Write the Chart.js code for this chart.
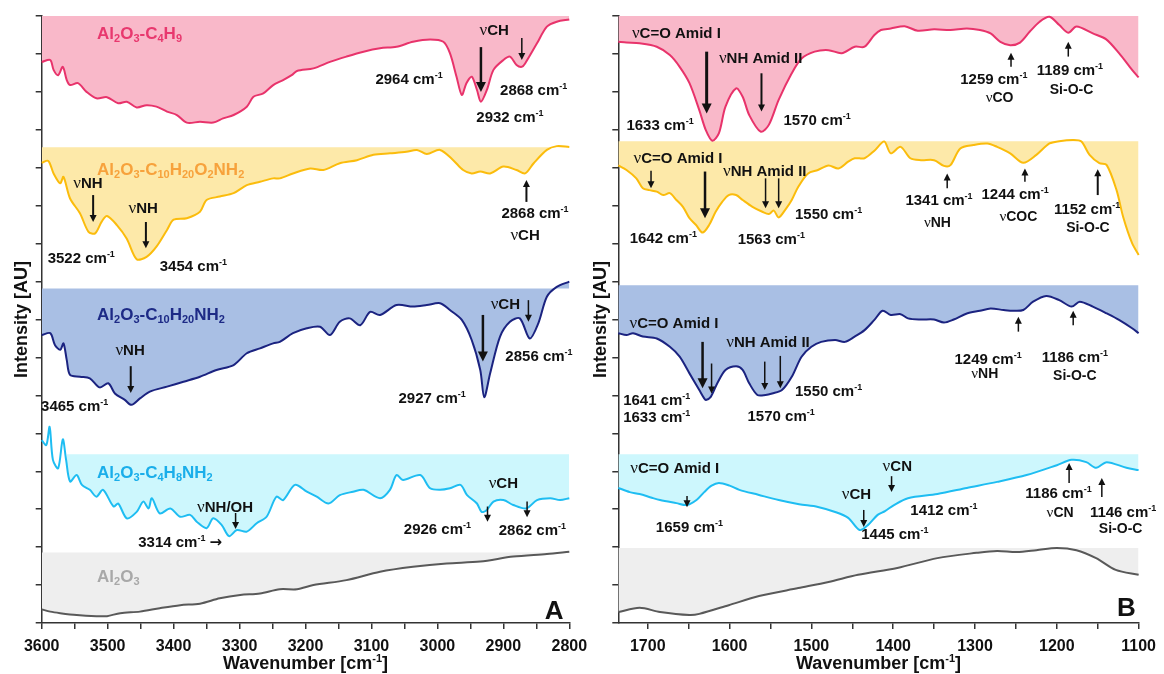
<!DOCTYPE html>
<html>
<head>
<meta charset="utf-8">
<script src="https://cdn.jsdelivr.net/npm/chart.js@4/dist/chart.umd.min.js"></script>
<style>
  html, body { margin: 0; padding: 0; background: #fff; }
  #wrap { position: relative; width: 1164px; height: 674px; overflow: hidden; }
  canvas { position: absolute; top: 0; }
  #chartA { left: 0; }
  #chartB { left: 578px; }
</style>
</head>
<body>
<div id="wrap">
  <canvas id="chartA" width="600" height="674"></canvas>
  <canvas id="chartB" width="586" height="674"></canvas>
</div>
<script>
var SANS = '"Liberation Sans", Arial, sans-serif';

var seriesNames = [
  "Al_2O_3-C_4H_9",
  "Al_2O_3-C_{10}H_{20}O_2NH_2",
  "Al_2O_3-C_{10}H_{20}NH_2",
  "Al_2O_3-C_4H_8NH_2",
  "Al_2O_3",
];
var lineColors = ["#e8336b", "#fbbc0c", "#1b2380", "#1ebdf2", "#595959"];
var fillColors = ["#f9b8c9", "#fde9a9", "#a9bfe4", "#cdf7fd", "#eeeeee"];
var labelColors = ["#e8386e", "#f7a23c", "#1d2a86", "#1aaeea", "#a8a8a8"];

// ---- panel A (3600-2800 cm-1) ----
var wnA_C4H9 = [3600,3587,3582,3575,3568,3562,3557,3545,3532,3517,3501,3484,3471,3456,3441,3426,3410,3395,3380,3360,3340,3325,3309,3289,3279,3264,3249,3234,3221,3213,3188,3163,3138,3112,3087,3062,3037,3011,2991,2981,2971,2963,2956,2948,2940,2934,2925,2915,2900,2890,2880,2872,2867,2849,2834,2819,2800];
var intA_C4H9 = [14.79,14.84,14.58,14.44,14.66,14.31,14.18,14.23,14.00,13.83,13.86,13.70,13.74,13.59,13.65,13.61,13.48,13.39,13.19,13.21,13.19,13.30,13.39,13.61,13.87,13.96,14.18,14.31,14.44,14.55,14.62,14.79,14.93,15.06,15.15,15.19,15.32,15.38,15.32,15.02,14.40,13.92,14.23,14.40,14.05,13.74,14.05,14.58,14.84,14.93,14.71,14.66,14.75,15.28,15.72,15.85,15.91];

var wnA_C10O2 = [3600,3590,3582,3572,3567,3557,3542,3529,3519,3509,3501,3486,3471,3456,3441,3426,3410,3400,3380,3360,3350,3330,3309,3289,3269,3249,3239,3219,3193,3173,3148,3122,3097,3072,3047,3031,3016,2996,2976,2961,2948,2935,2920,2900,2880,2867,2854,2834,2819,2800];
var intA_C10O2 = [12.13,12.18,11.85,11.59,11.76,11.19,10.80,10.31,10.27,10.58,10.73,10.49,10.13,9.59,9.65,9.92,10.36,10.63,10.67,10.84,11.15,11.24,11.33,11.54,11.63,11.72,11.72,11.85,11.98,11.94,12.12,12.20,12.34,12.38,12.42,12.47,12.36,12.47,12.20,11.94,11.85,11.90,11.85,12.03,11.94,11.85,12.12,12.47,12.57,12.55];

var wnA_C10 = [3600,3587,3580,3572,3567,3562,3557,3542,3527,3512,3499,3489,3474,3464,3451,3436,3410,3385,3360,3335,3309,3289,3269,3249,3239,3219,3198,3178,3163,3148,3133,3117,3102,3087,3062,3037,3016,2996,2981,2963,2948,2935,2929,2920,2905,2890,2875,2860,2847,2834,2819,2800];
var intA_C10 = [7.59,7.64,7.33,7.20,7.37,6.93,6.54,6.49,6.45,6.21,6.32,6.05,5.88,5.75,5.92,6.10,6.23,6.36,6.49,6.67,6.80,7.11,7.24,7.37,7.41,7.64,7.77,7.81,7.59,7.94,8.03,7.85,8.20,8.12,8.38,8.34,8.38,8.43,8.25,7.99,7.46,6.67,5.95,6.58,7.55,7.94,8.03,7.50,7.90,8.60,8.86,9.00];

var wnA_C4N = [3600,3593,3588,3583,3575,3568,3563,3557,3547,3539,3527,3517,3507,3491,3484,3471,3456,3446,3438,3433,3421,3405,3390,3375,3365,3350,3340,3327,3316,3304,3289,3274,3259,3244,3234,3216,3198,3183,3165,3148,3128,3112,3087,3072,3062,3052,3026,3011,2996,2981,2965,2955,2940,2933,2925,2915,2900,2885,2865,2849,2829,2814,2800];
var intA_C4N = [4.82,4.69,5.17,4.30,4.08,4.84,4.30,3.73,3.90,3.64,3.51,3.33,3.51,3.07,3.15,2.76,2.93,3.20,3.02,3.29,2.89,3.02,2.80,2.85,2.67,2.50,2.76,2.58,2.29,2.45,2.41,2.63,2.80,3.33,3.24,3.64,3.46,3.33,3.15,3.37,3.46,3.51,3.29,3.51,3.90,3.77,3.90,3.55,3.51,3.55,3.64,3.37,3.15,2.93,2.98,3.20,3.24,3.11,3.02,3.24,3.29,3.24,3.29];

var wnA_Al2O3 = [3600,3587,3572,3547,3517,3501,3481,3451,3421,3390,3360,3330,3299,3269,3239,3213,3188,3138,3087,3037,2986,2935,2885,2834,2800];
var intA_Al2O3 = [0.36,0.30,0.26,0.21,0.18,0.18,0.26,0.30,0.39,0.47,0.51,0.65,0.74,0.78,0.89,0.89,1.00,1.13,1.35,1.48,1.57,1.62,1.75,1.82,1.88];

var bandTopA = [16.05, 12.54, 8.82, 4.45, 1.86];
var bandStartA = [3600, 3600, 3600, 3562, 3600];

// ---- panel B (1736-1100 cm-1) ----
var wnB_C4H9 = [1736,1726,1710,1689,1673,1661,1649,1637,1629,1621,1613,1605,1592,1584,1576,1562,1552,1540,1524,1512,1496,1479,1463,1447,1435,1423,1415,1403,1386,1370,1350,1330,1310,1294,1281,1269,1257,1245,1233,1221,1209,1197,1186,1176,1156,1140,1124,1108,1100];
var intB_C4H9 = [15.32,15.30,15.28,15.19,14.97,14.66,14.23,13.52,12.99,12.71,12.91,13.61,14.09,13.87,13.39,12.95,13.13,13.79,14.49,14.88,15.06,15.10,15.02,15.19,15.19,15.50,15.63,15.67,15.73,15.61,15.65,15.63,15.67,15.63,15.54,15.32,15.23,15.30,15.59,15.85,15.98,15.76,15.56,15.72,15.54,15.39,15.02,14.58,14.38];

var wnB_C10O2 = [1736,1726,1714,1706,1698,1689,1681,1673,1665,1657,1649,1641,1633,1625,1617,1609,1601,1592,1584,1572,1560,1552,1546,1540,1532,1524,1516,1504,1492,1479,1467,1455,1447,1435,1423,1411,1403,1391,1379,1366,1350,1338,1330,1318,1302,1285,1273,1257,1241,1225,1209,1197,1180,1170,1160,1148,1139,1127,1119,1108,1100];
var intB_C10O2 = [12.06,11.94,11.72,11.46,11.41,11.37,11.28,11.33,11.15,10.97,10.67,10.49,10.29,10.49,10.84,11.10,11.28,11.28,11.15,10.97,10.84,10.78,10.87,10.69,10.89,11.15,11.50,11.85,11.94,12.06,11.98,12.16,12.25,12.25,12.45,12.69,12.38,12.55,12.25,12.20,12.20,12.05,12.07,12.51,12.60,12.64,12.55,12.38,12.13,12.34,12.64,12.70,12.73,12.69,12.34,12.12,12.07,11.41,10.71,10.01,9.70];

var wnB_C10 = [1736,1726,1718,1706,1689,1673,1661,1649,1637,1631,1629,1623,1615,1605,1592,1584,1576,1566,1556,1548,1536,1524,1512,1500,1488,1471,1459,1447,1435,1423,1413,1403,1391,1382,1366,1350,1338,1326,1310,1294,1281,1265,1253,1241,1229,1213,1197,1182,1172,1156,1139,1124,1108,1100];
var intB_C10 = [7.64,7.59,7.64,7.55,7.50,7.28,7.02,6.58,6.14,5.92,5.88,5.96,6.32,6.67,6.77,6.67,6.32,6.01,6.01,6.05,6.14,6.49,7.02,7.28,7.41,7.46,7.41,7.55,7.72,7.99,8.23,8.12,8.14,8.03,8.00,8.00,7.92,8.00,8.16,8.23,8.29,8.25,8.23,8.25,8.47,8.62,8.51,8.34,8.47,8.34,8.16,7.99,7.77,7.64];

var wnB_C4N = [1736,1722,1710,1695,1685,1665,1652,1640,1631,1622,1613,1600,1588,1565,1540,1515,1492,1470,1455,1441,1431,1419,1410,1399,1382,1346,1310,1273,1237,1200,1182,1164,1152,1139,1115,1100];
var intB_C4N = [3.56,3.45,3.40,3.30,3.24,3.16,3.11,3.25,3.45,3.62,3.69,3.62,3.51,3.38,3.24,3.13,3.06,2.92,2.77,2.45,2.58,2.85,2.95,3.11,3.29,3.40,3.56,3.72,3.90,4.16,4.30,4.24,4.09,4.24,4.09,4.03];

var wnB_Al2O3 = [1736,1710,1685,1649,1637,1601,1564,1516,1479,1443,1395,1346,1298,1273,1249,1225,1200,1176,1152,1128,1100];
var intB_Al2O3 = [0.29,0.40,0.29,0.21,0.24,0.47,0.71,0.92,1.08,1.27,1.45,1.71,1.85,1.90,1.87,1.92,1.98,1.92,1.71,1.40,1.27];

var bandTopB = [16.05, 12.70, 8.90, 4.45, 1.98];
var bandStartB = [1736, 1736, 1736, 1736, 1736];

// series names sit at this wavenumber / intensity in panel A
var nameX = 3516;
var nameY = [15.55, 11.98, 8.16, 3.99, 1.24];

// peak annotations, in wavenumber / intensity
var notesA = [
  { t: "νCH", x: 2914, y: 15.63 },
  { t: "2964 cm^{-1}", x: 3043, y: 14.36 },
  { t: "2932 cm^{-1}", x: 2890, y: 13.34 },
  { t: "2868 cm^{-1}", x: 2854, y: 14.05 },
  { t: "νNH", x: 3530, y: 11.6 },
  { t: "νNH", x: 3446, y: 10.94 },
  { t: "3522 cm^{-1}", x: 3540, y: 9.62 },
  { t: "3454 cm^{-1}", x: 3370, y: 9.41 },
  { t: "2868 cm^{-1}", x: 2852, y: 10.81 },
  { t: "νCH", x: 2867, y: 10.23 },
  { t: "νNH", x: 3466, y: 7.2 },
  { t: "3465 cm^{-1}", x: 3550, y: 5.72 },
  { t: "νCH", x: 2897, y: 8.41 },
  { t: "2927 cm^{-1}", x: 3008, y: 5.93 },
  { t: "2856 cm^{-1}", x: 2846, y: 7.06 },
  { t: "νNH/OH", x: 3322, y: 3.08 },
  { t: "3314 cm^{-1} →", x: 3390, y: 2.14 },
  { t: "νCH", x: 2900, y: 3.69 },
  { t: "2926 cm^{-1}", x: 3000, y: 2.48 },
  { t: "2862 cm^{-1}", x: 2856, y: 2.45 },
];
var arrowsA = [
  { x: 2934, from: 15.18, to: 14.0, w: 2.5 },
  { x: 2872, from: 15.42, to: 14.84, w: 1.5 },
  { x: 3522, from: 11.28, to: 10.57, w: 2 },
  { x: 3442, from: 10.57, to: 9.88, w: 2 },
  { x: 2865, from: 11.1, to: 11.68, w: 2 },
  { x: 3465, from: 6.77, to: 6.06, w: 2 },
  { x: 2931, from: 8.12, to: 6.89, w: 2.5 },
  { x: 2862, from: 8.51, to: 7.94, w: 1.5 },
  { x: 3306, from: 2.9, to: 2.48, w: 1.5 },
  { x: 2924, from: 3.07, to: 2.67, w: 1.5 },
  { x: 2864, from: 3.2, to: 2.79, w: 1.5 },
];

var notesB = [
  { t: "νC=O Amid I", x: 1665, y: 15.55 },
  { t: "νNH Amid II", x: 1562, y: 14.91 },
  { t: "1633 cm^{-1}", x: 1685, y: 13.13 },
  { t: "1570 cm^{-1}", x: 1493, y: 13.26 },
  { t: "1259 cm^{-1}", x: 1277, y: 14.36 },
  { t: "νCO", x: 1270, y: 13.87, s: 14 },
  { t: "1189 cm^{-1}", x: 1184, y: 14.58 },
  { t: "Si-O-C", x: 1182, y: 14.09, s: 14 },
  { t: "νC=O Amid I", x: 1663, y: 12.27 },
  { t: "νNH Amid II", x: 1557, y: 11.92 },
  { t: "1550 cm^{-1}", x: 1479, y: 10.78 },
  { t: "1642 cm^{-1}", x: 1681, y: 10.17 },
  { t: "1563 cm^{-1}", x: 1549, y: 10.12 },
  { t: "1341 cm^{-1}", x: 1344, y: 11.15 },
  { t: "νNH", x: 1346, y: 10.58, s: 14 },
  { t: "1244 cm^{-1}", x: 1251, y: 11.33 },
  { t: "νCOC", x: 1247, y: 10.73, s: 14 },
  { t: "1152 cm^{-1}", x: 1163, y: 10.93 },
  { t: "Si-O-C", x: 1162, y: 10.43, s: 14 },
  { t: "νC=O Amid I", x: 1668, y: 7.92 },
  { t: "νNH Amid II", x: 1553, y: 7.41 },
  { t: "1550 cm^{-1}", x: 1479, y: 6.12 },
  { t: "1641 cm^{-1}", x: 1689, y: 5.9 },
  { t: "1633 cm^{-1}", x: 1689, y: 5.44 },
  { t: "1570 cm^{-1}", x: 1537, y: 5.46 },
  { t: "1249 cm^{-1}", x: 1284, y: 6.98 },
  { t: "νNH", x: 1288, y: 6.58, s: 14 },
  { t: "1186 cm^{-1}", x: 1178, y: 7.02 },
  { t: "Si-O-C", x: 1178, y: 6.54, s: 14 },
  { t: "νC=O Amid I", x: 1667, y: 4.09 },
  { t: "1659 cm^{-1}", x: 1649, y: 2.53 },
  { t: "νCH", x: 1445, y: 3.4 },
  { t: "νCN", x: 1395, y: 4.14 },
  { t: "1412 cm^{-1}", x: 1338, y: 2.98 },
  { t: "1445 cm^{-1}", x: 1398, y: 2.35 },
  { t: "1186 cm^{-1}", x: 1198, y: 3.45 },
  { t: "νCN", x: 1196, y: 2.93, s: 14 },
  { t: "1146 cm^{-1}", x: 1119, y: 2.93 },
  { t: "Si-O-C", x: 1122, y: 2.5, s: 14 },
];
var arrowsB = [
  { x: 1628, from: 15.06, to: 13.43, w: 3 },
  { x: 1561, from: 14.49, to: 13.48, w: 2 },
  { x: 1256, from: 14.66, to: 15.03, w: 1.5 },
  { x: 1186, from: 14.93, to: 15.32, w: 1.5 },
  { x: 1696, from: 11.92, to: 11.46, w: 1.5 },
  { x: 1630, from: 11.9, to: 10.67, w: 2.5 },
  { x: 1556, from: 11.72, to: 10.93, w: 1.5 },
  { x: 1540, from: 11.72, to: 10.93, w: 1.5 },
  { x: 1334, from: 11.46, to: 11.85, w: 1.5 },
  { x: 1239, from: 11.63, to: 11.98, w: 1.5 },
  { x: 1150, from: 11.28, to: 11.96, w: 2 },
  { x: 1633, from: 7.41, to: 6.19, w: 2.5 },
  { x: 1622, from: 6.84, to: 6.05, w: 1.5 },
  { x: 1557, from: 6.89, to: 6.14, w: 1.5 },
  { x: 1538, from: 7.04, to: 6.19, w: 1.5 },
  { x: 1247, from: 7.68, to: 8.07, w: 1.5 },
  { x: 1180, from: 7.85, to: 8.23, w: 1.5 },
  { x: 1652, from: 3.35, to: 3.05, w: 1.5 },
  { x: 1436, from: 2.98, to: 2.53, w: 1.5 },
  { x: 1402, from: 3.87, to: 3.45, w: 1.5 },
  { x: 1185, from: 3.69, to: 4.22, w: 1.5 },
  { x: 1145, from: 3.32, to: 3.82, w: 1.5 },
];

// --- small rich-text helper: _x subscript, ^x superscript, ν in serif, → in DejaVu ---
function parseRich(s) {
  var segs = [];
  var i = 0;
  while (i < s.length) {
    var c = s[i];
    if (c === "_" || c === "^") {
      var t;
      if (s[i + 1] === "{") {
        var j = s.indexOf("}", i);
        t = s.slice(i + 2, j);
        i = j + 1;
      } else {
        t = s[i + 1];
        i += 2;
      }
      segs.push({ t: t, m: c === "_" ? "sub" : "sup" });
    } else if (c === "ν") {
      segs.push({ t: c, m: "g" });
      i++;
    } else if (c === "→") {
      segs.push({ t: c, m: "a" });
      i++;
    } else {
      var k = i;
      while (k < s.length && "_^ν→".indexOf(s[k]) < 0) k++;
      segs.push({ t: s.slice(i, k), m: "n" });
      i = k;
    }
  }
  return segs;
}

function fontFor(m, size) {
  if (m === "g") return "normal " + Math.round(size * 1.1) + 'px "Liberation Serif", "DejaVu Serif", serif';
  if (m === "a") return "bold " + size + 'px "DejaVu Sans", sans-serif';
  if (m === "sub" || m === "sup") return "bold " + Math.round(size * 0.62) + "px " + SANS;
  return "bold " + size + "px " + SANS;
}

function drawRich(ctx, s, x, y, size, color, align) {
  var segs = parseRich(s);
  var w = 0;
  segs.forEach(function (g) {
    ctx.font = fontFor(g.m, size);
    g.w = ctx.measureText(g.t).width;
    w += g.w;
  });
  var cx = align === "left" ? x : x - w / 2;
  var base = y + size * 0.36;
  ctx.fillStyle = color;
  ctx.textAlign = "left";
  ctx.textBaseline = "alphabetic";
  segs.forEach(function (g) {
    ctx.font = fontFor(g.m, size);
    var dy = g.m === "sub" ? size * 0.18 : g.m === "sup" ? -size * 0.4 : 0;
    ctx.fillText(g.t, cx, base + dy);
    cx += g.w;
  });
}

function drawArrow(ctx, x, y0, y1, w) {
  var dir = y1 > y0 ? 1 : -1;
  var hl = w > 2 ? 10 : 7;
  var hw = w > 2 ? 5 : 3.5;
  ctx.strokeStyle = "#111";
  ctx.fillStyle = "#111";
  ctx.lineWidth = w;
  ctx.beginPath();
  ctx.moveTo(x, y0);
  ctx.lineTo(x, y1 - dir * hl * 0.8);
  ctx.stroke();
  ctx.beginPath();
  ctx.moveTo(x, y1);
  ctx.lineTo(x - hw, y1 - dir * hl);
  ctx.lineTo(x + hw, y1 - dir * hl);
  ctx.closePath();
  ctx.fill();
}

function makeAnnotator(notes, arrows, letter, showNames) {
  return {
    id: "annotator",
    afterDraw: function (chart) {
      var ctx = chart.ctx;
      var xs = chart.scales.x;
      var ys = chart.scales.y;
      var area = chart.chartArea;
      ctx.save();
      if (showNames) {
        seriesNames.forEach(function (name, i) {
          drawRich(ctx, name, xs.getPixelForValue(nameX), ys.getPixelForValue(nameY[i]), 17, labelColors[i], "left");
        });
      }
      notes.forEach(function (n) {
        drawRich(ctx, n.t, xs.getPixelForValue(n.x), ys.getPixelForValue(n.y), n.s || 15, "#111", "center");
      });
      arrows.forEach(function (a) {
        drawArrow(ctx, xs.getPixelForValue(a.x), ys.getPixelForValue(a.from), ys.getPixelForValue(a.to), a.w);
      });
      drawRich(ctx, letter.t, xs.getPixelForValue(letter.x), ys.getPixelForValue(letter.y), 26, "#111", "center");
      // axis titles
      drawRich(ctx, "Wavenumber [cm^{-1}]", (area.left + area.right) / 2, 663, 18, "#111", "center");
      ctx.translate(letter.titleX, (area.top + area.bottom) / 2);
      ctx.rotate(-Math.PI / 2);
      drawRich(ctx, "Intensity [AU]", 0, 0, 18, "#111", "center");
      ctx.restore();
    },
  };
}

function makeDatasets(wnList, intList, tops, starts, end) {
  var ds = [];
  for (var i = 0; i < wnList.length; i++) {
    var ints = intList[i];
    ds.push({
      data: wnList[i].map(function (w, k) { return { x: w, y: ints[k] }; }),
      borderColor: lineColors[i],
      borderWidth: 2,
      pointRadius: 0,
      tension: 0.3,
      fill: "+1",
      backgroundColor: fillColors[i],
      clip: false,
    });
    ds.push({
      data: [{ x: starts[i], y: tops[i] }, { x: end, y: tops[i] }],
      borderColor: "rgba(0,0,0,0)",
      borderWidth: 0,
      pointRadius: 0,
      fill: false,
      clip: false,
    });
  }
  return ds;
}

function makeChart(id, datasets, xmin, xmax, yAxisWidth, padRight, annotator) {
  var axisColor = "#333";
  return new Chart(document.getElementById(id), {
    type: "line",
    data: { datasets: datasets },
    options: {
      responsive: false,
      animation: false,
      events: [],
      layout: { padding: { top: 16, right: padRight, left: 0, bottom: 0 } },
      plugins: { legend: { display: false }, tooltip: { enabled: false } },
      scales: {
        x: {
          type: "linear",
          reverse: true,
          min: xmin,
          max: xmax,
          afterFit: function (scale) { scale.height = 51; },
          border: { display: true, color: axisColor, width: 1.5 },
          grid: { drawOnChartArea: false, drawTicks: true, tickLength: 6, color: axisColor, lineWidth: 1.5 },
          ticks: {
            stepSize: 50,
            includeBounds: false,
            maxTicksLimit: 100,
            autoSkip: false,
            maxRotation: 0,
            padding: 8,
            color: "#111",
            font: { size: 16, weight: "bold", family: SANS },
            callback: function (v) { return v % 100 === 0 ? String(v) : ""; },
          },
        },
        y: {
          min: 0,
          max: 16,
          afterFit: function (scale) { scale.width = yAxisWidth; },
          border: { display: true, color: axisColor, width: 1.5 },
          grid: { drawOnChartArea: false, drawTicks: true, tickLength: 6, color: axisColor, lineWidth: 1.5 },
          ticks: { display: false, stepSize: 1, maxTicksLimit: 100 },
        },
      },
    },
    plugins: [annotator],
  });
}

window.onload = function () {
  var dsA = makeDatasets(
    [wnA_C4H9, wnA_C10O2, wnA_C10, wnA_C4N, wnA_Al2O3],
    [intA_C4H9, intA_C10O2, intA_C10, intA_C4N, intA_Al2O3],
    bandTopA, bandStartA, 2800
  );
  var dsB = makeDatasets(
    [wnB_C4H9, wnB_C10O2, wnB_C10, wnB_C4N, wnB_Al2O3],
    [intB_C4H9, intB_C10O2, intB_C10, intB_C4N, intB_Al2O3],
    bandTopB, bandStartB, 1100
  );
  makeChart("chartA", dsA, 2800, 3600, 41.7, 30.7,
    makeAnnotator(notesA, arrowsA, { t: "A", x: 2823, y: 0.34, titleX: 21 }, true));
  makeChart("chartB", dsB, 1100, 1736, 40.3, 20,
    makeAnnotator(notesB, arrowsB, { t: "B", x: 1115, y: 0.42, titleX: 22 }, false));
};
</script>
</body>
</html>
